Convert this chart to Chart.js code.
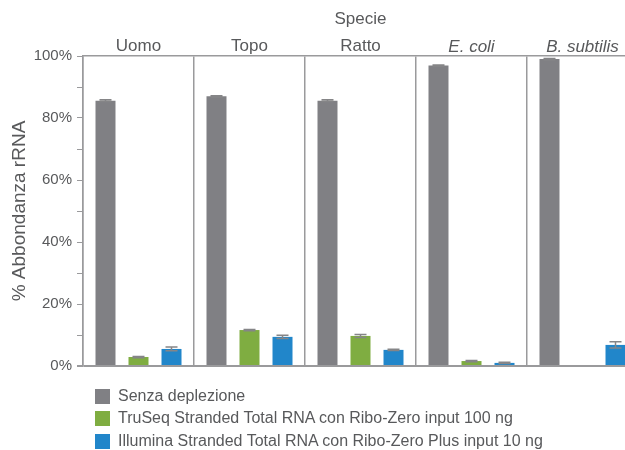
<!DOCTYPE html>
<html>
<head>
<meta charset="utf-8">
<script src="https://cdn.jsdelivr.net/npm/chart.js@4"></script>
<style>
  body { margin: 0; overflow: hidden; background: #fff; }
  #wrap { position: relative; width: 640px; height: 450px; }
  .leg { position: absolute; left: 95px; display: flex; align-items: center;
         font: 16px "Liberation Sans", Arial, sans-serif; color: #58595b; white-space: nowrap; }
  .leg span.sw { display: inline-block; width: 15px; height: 15px; margin-right: 8px; }
</style>
</head>
<body>
<div id="wrap">
  <canvas id="myChart" width="640" height="450"></canvas>
  <div id="legend"></div>
</div>
<script>
const categories = ['Uomo', 'Topo', 'Ratto', 'E. coli', 'B. subtilis'];
const seriesNames = [
  'Senza deplezione',
  'TruSeq Stranded Total RNA con Ribo-Zero input 100 ng',
  'Illumina Stranded Total RNA con Ribo-Zero Plus input 10 ng'
];
const colors = ['#808084', '#7fad41', '#2186ca'];

const noDepletion = [85.6, 87.0, 85.6, 96.9, 99.0];
const truSeq = [2.9, 11.6, 9.7, 1.6, null];
const illuminaPlus = [5.5, 9.4, 5.2, 1.0, 6.8];

const noDepletionErr = [0.3, 0.2, 0.3, 0.2, 0.2];
const truSeqErr = [0.2, 0.2, 0.5, 0.2, null];
const illuminaPlusErr = [0.6, 0.5, 0.2, 0.2, 1.0];

const yTicks = [0, 20, 40, 60, 80, 100];

const FONT = '"Liberation Sans", Arial, sans-serif';
const TEXT = '#58595b';
const AXIS = '#9a9a9c';

const errorBars = {
  id: 'errorBars',
  afterDatasetsDraw(chart) {
    const { ctx } = chart;
    const y = chart.scales.y;
    chart.data.datasets.forEach((ds, di) => {
      const meta = chart.getDatasetMeta(di);
      meta.data.forEach((bar, i) => {
        const v = ds.data[i];
        const e = ds.errors[i];
        if (v == null || e == null) return;
        const top = y.getPixelForValue(v + e);
        const bot = y.getPixelForValue(v - e);
        ctx.save();
        ctx.strokeStyle = '#858587';
        ctx.lineWidth = 1.5;
        ctx.beginPath();
        ctx.moveTo(bar.x, top); ctx.lineTo(bar.x, bot);
        ctx.moveTo(bar.x - 6, top); ctx.lineTo(bar.x + 6, top);
        ctx.moveTo(bar.x - 6, bot); ctx.lineTo(bar.x + 6, bot);
        ctx.stroke();
        ctx.restore();
      });
    });
  }
};

document.addEventListener('DOMContentLoaded', () => {
  const ctx = document.getElementById('myChart').getContext('2d');
  const values = [noDepletion, truSeq, illuminaPlus];
  const errs = [noDepletionErr, truSeqErr, illuminaPlusErr];

  new Chart(ctx, {
    type: 'bar',
    data: {
      labels: categories,
      datasets: seriesNames.map((name, i) => ({
        label: name,
        data: values[i],
        errors: errs[i],
        backgroundColor: colors[i]
      }))
    },
    options: {
      responsive: false,
      animation: false,
      categoryPercentage: 0.892,
      barPercentage: 0.606,
      layout: { padding: { top: 0, right: 2, bottom: 84, left: 0 } },
      plugins: { legend: { display: false }, tooltip: { enabled: false } },
      scales: {
        x: {
          position: 'top',
          afterFit(scale) { scale.height = 56; },
          title: {
            display: true, text: 'Specie', color: TEXT,
            font: { family: FONT, size: 17 }, padding: { top: 9, bottom: 4 }
          },
          ticks: {
            color: TEXT, padding: -1,
            font: (c) => ({ family: FONT, size: 17, style: c.index >= 3 ? 'italic' : 'normal' })
          },
          grid: { offset: true, color: AXIS, lineWidth: 1.5, drawTicks: false },
          border: { display: true, color: AXIS, width: 1.5 }
        },
        y: {
          min: 0, max: 100,
          afterFit(scale) { scale.width = 83; },
          title: {
            display: true, text: '% Abbondanza rRNA', color: TEXT,
            font: { family: FONT, size: 19 }, padding: { top: 8, bottom: 2 }
          },
          ticks: {
            stepSize: 5, color: TEXT, padding: 5,
            font: { family: FONT, size: 15 },
            callback: (v) => yTicks.includes(v) ? v + '%' : ''
          },
          grid: {
            drawOnChartArea: true,
            color: (c) => c.tick && c.tick.value === 0 ? AXIS : 'transparent',
            lineWidth: (c) => c.tick && c.tick.value === 0 ? 2 : 1,
            tickColor: AXIS, tickLength: 6
          },
          border: { display: true, color: AXIS, width: 1.5 }
        }
      }
    },
    plugins: [errorBars]
  });

  const legend = document.getElementById('legend');
  const tops = [387, 409, 432];
  seriesNames.forEach((name, i) => {
    const row = document.createElement('div');
    row.className = 'leg';
    row.style.top = tops[i] + 'px';
    const sw = document.createElement('span');
    sw.className = 'sw';
    sw.style.background = colors[i];
    row.appendChild(sw);
    row.appendChild(document.createTextNode(name));
    legend.appendChild(row);
  });
});
</script>
</body>
</html>
